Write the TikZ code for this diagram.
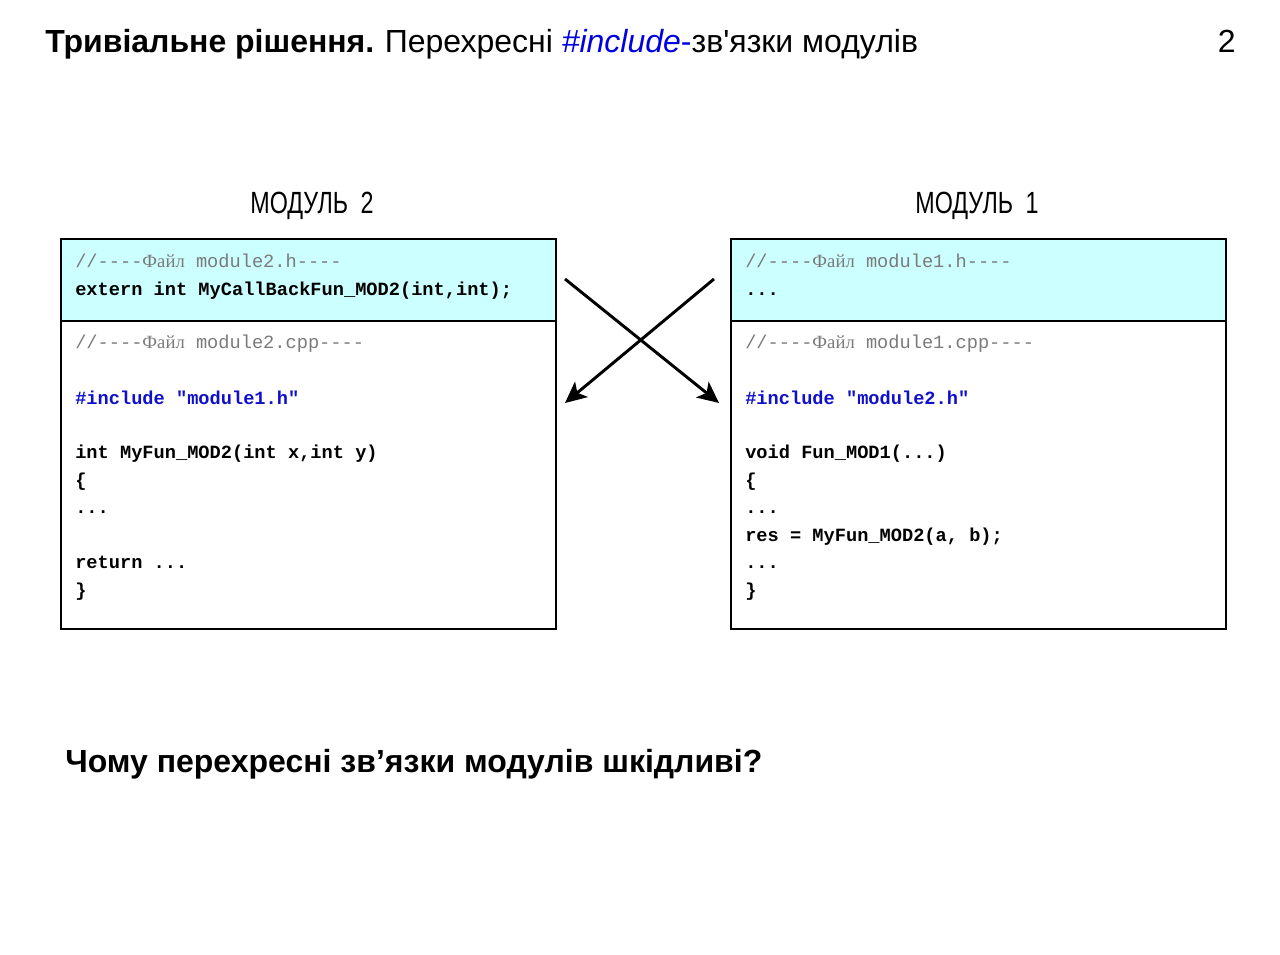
\documentclass[tikz,border=0pt]{standalone}
\usepackage{fontspec}
\setmainfont{Liberation Sans}
\setmonofont{Liberation Mono}
\newfontfamily\cyrserif{Liberation Serif}
\usetikzlibrary{arrows.meta}
\definecolor{hdrcyan}{HTML}{CCFFFF}
\definecolor{incblue}{HTML}{1010CC}
\definecolor{titleblue}{HTML}{0000E0}
\definecolor{cmtgray}{HTML}{7A7A7A}
\newcommand{\cmt}[1]{\textcolor{cmtgray}{\mdseries #1}}
\newcommand{\fajl}{{\cyrserif Файл}}
\newcommand{\inc}[1]{\textcolor{incblue}{#1}}
\begin{document}
\begin{tikzpicture}[x=0.75pt, y=-0.75pt,
		modbox/.style={draw, line width=1.5pt, shape=rectangle, minimum width=371.25pt, inner sep=0, anchor=north west},
		codeline/.style={anchor=base west, inner sep=0, font=\ttfamily\bfseries\fontsize{14}{16}\selectfont},
		modtitle/.style={anchor=base, inner sep=0, font=\fontsize{23}{26}\selectfont},
		cross/.style={line width=2.2pt, -{Stealth[length=16pt, width=15pt, inset=4pt]}}]
			\useasboundingbox (0,0) rectangle (1280,955);
			\node[anchor=base west, inner sep=0, font=\fontsize{24}{28}\selectfont] (title) at (45,53)
				{\textbf{Тривіальне рішення.}\hspace{-1pt} Перехресні \textcolor{titleblue}{\textit{\#include}-}зв\textquotesingle язки модулів};
			\node[anchor=base east, inner sep=0, font=\fontsize{24}{28}\selectfont] (pnum) at (1236,53) {2};
			% module 2
			\node[modtitle] (t2) at (312,214) {\scalebox{0.76}[1]{МОДУЛЬ\hspace{6pt} 2}};
			\node[modbox, fill=hdrcyan, minimum height=61.5pt] (h2) at (60,238) {};
			\node[modbox, minimum height=231pt] (c2) at (60,320) {};
			\foreach \y/\txt in {268/{\cmt{//----\fajl{} module2.h----}}, 296/{extern int MyCallBackFun\_MOD2(int,int);}}
				{
					\node[codeline] (h2l\y) at (75,\y) {\txt};
				}
			\foreach \y/\txt in {349/{\cmt{//----\fajl{} module2.cpp----}}, 404/{\inc{\#include "module1.h"}}, 458/{int MyFun\_MOD2(int x,int y)}, 486/{\{}, 513/{...}, 568/{return ...}, 596/{\}}}
				{
					\node[codeline] (c2l\y) at (75,\y) {\txt};
				}
			% module 1
			\node[modtitle] (t1) at (977,214) {\scalebox{0.76}[1]{МОДУЛЬ\hspace{6pt} 1}};
			\node[modbox, fill=hdrcyan, minimum height=61.5pt] (h1) at (730,238) {};
			\node[modbox, minimum height=231pt] (c1) at (730,320) {};
			\foreach \y/\txt in {268/{\cmt{//----\fajl{} module1.h----}}, 296/{...}}
				{
					\node[codeline] (h1l\y) at (745,\y) {\txt};
				}
			\foreach \y/\txt in {349/{\cmt{//----\fajl{} module1.cpp----}}, 404/{\inc{\#include "module2.h"}}, 458/{void Fun\_MOD1(...)}, 486/{\{}, 513/{...}, 541/{res = MyFun\_MOD2(a, b);}, 568/{...}, 596/{\}}}
				{
					\node[codeline] (c1l\y) at (745,\y) {\txt};
				}
			% crossed includes
			\coordinate (a2) at (565,279);
			\coordinate (a1) at (714,279);
			\coordinate (e1) at (719,403);
			\coordinate (e2) at (565,403);
			\draw[cross] (a2) -- (e1);
			\draw[cross] (a1) -- (e2);
			\node[anchor=base west, inner sep=0, font=\bfseries\fontsize{24}{28}\selectfont] (quest) at (65,772) {Чому перехресні зв’язки модулів шкідливі?};
\end{tikzpicture}
\end{document}
